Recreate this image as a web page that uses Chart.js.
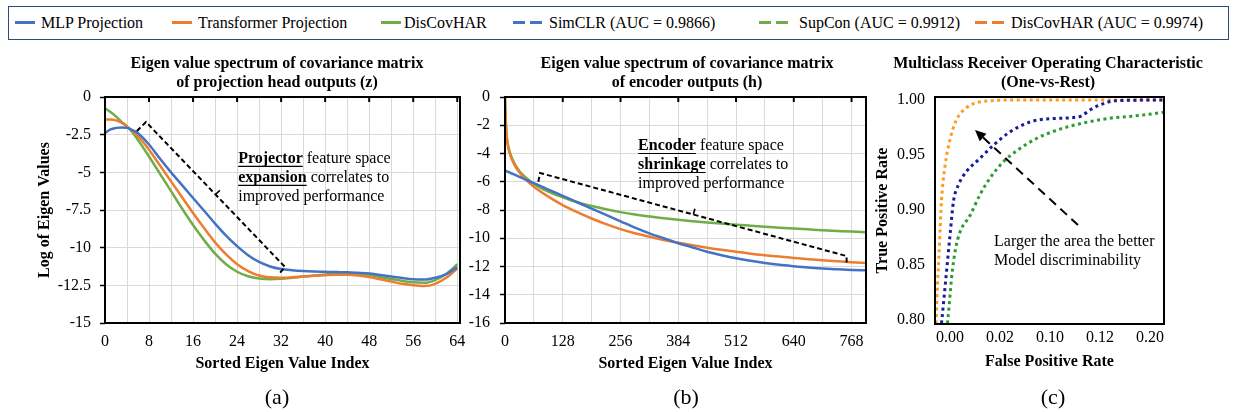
<!DOCTYPE html>
<html><head><meta charset="utf-8">
<script src="https://cdn.jsdelivr.net/npm/chart.js@4.4.1/dist/chart.umd.min.js"></script>
<style>
body{margin:0;width:1235px;height:412px;background:#fff;position:relative;overflow:hidden;font-family:"Liberation Serif","Times New Roman",serif;color:#000;}
canvas.c{position:absolute;left:0;top:0;}
#legend{position:absolute;left:8px;top:6px;width:1221px;height:34px;border:1.5px solid #2E4A7D;box-sizing:border-box;}
.lt{position:absolute;top:0;height:31px;line-height:31px;font-size:16px;white-space:nowrap;}
.sw{position:absolute;top:14px;height:3px;}
.cap{position:absolute;top:385px;font-size:22px;line-height:24px;transform:translateX(-50%);white-space:nowrap;}
</style></head>
<body>
<div id="legend"></div>
<canvas class="c" id="ca" width="1235" height="412"></canvas>
<canvas class="c" id="cb" width="1235" height="412"></canvas>
<canvas class="c" id="cc" width="1235" height="412"></canvas>
<div class="cap" style="left:277px">(a)</div>
<div class="cap" style="left:686px">(b)</div>
<div class="cap" style="left:1053px">(c)</div>
<script>
// ---------------- DATA ----------------
// Legend
const legendLabels = ['MLP Projection','Transformer Projection','DisCovHAR','SimCLR (AUC = 0.9866)','SupCon (AUC = 0.9912)','DisCovHAR (AUC = 0.9974)'];
const legendColors = ['#4472C4','#ED7D31','#70AD47','#4472C4','#70AD47','#ED7D31'];
const legendDashed = [false,false,false,true,true,true];

// (a) projection head eigen spectrum
const aIdx  = [0,1,2,3,4,5,6,8,10,12,14,16,18,20,22,24,26,28,30,32,34,36,38,40,42,44,46,48,50,52,54,56,58,60,62,64];
const aMLP  = [-2.4,-2.15,-2.05,-2.02,-2.05,-2.2,-2.4,-3.15,-4.1,-5.0,-5.85,-6.7,-7.55,-8.4,-9.2,-9.9,-10.5,-10.95,-11.25,-11.42,-11.5,-11.55,-11.58,-11.6,-11.62,-11.63,-11.67,-11.72,-11.82,-11.92,-12.02,-12.1,-12.12,-12.0,-11.75,-11.3];
const aTrans= [-1.5,-1.5,-1.55,-1.7,-1.95,-2.25,-2.6,-3.5,-4.55,-5.6,-6.65,-7.7,-8.7,-9.65,-10.45,-11.1,-11.55,-11.85,-11.97,-12.0,-11.97,-11.92,-11.87,-11.83,-11.8,-11.8,-11.85,-11.95,-12.1,-12.25,-12.4,-12.5,-12.55,-12.4,-12.0,-11.4];
const aDisc = [-0.75,-1.0,-1.3,-1.65,-1.95,-2.35,-2.85,-3.95,-5.1,-6.25,-7.4,-8.5,-9.5,-10.4,-11.1,-11.6,-11.9,-12.05,-12.1,-12.07,-12.0,-11.92,-11.85,-11.78,-11.72,-11.7,-11.73,-11.82,-11.95,-12.08,-12.2,-12.3,-12.33,-12.15,-11.75,-11.1];
const aXTicks = [0,8,16,24,32,40,48,56,64];
const aXTickLabels = ['0','8','16','24','32','40','48','56','64'];
const aYTicks = [0,-2.5,-5,-7.5,-10,-12.5,-15];
const aYTickLabels = ['0','-2.5','-5','-7.5','-10','-12.5','-15'];

// (b) encoder eigen spectrum
const bIdx  = [0,2,4,8,12,20,32,48,64,96,128,160,192,224,256,288,320,352,384,416,448,480,512,544,576,608,640,672,704,736,768,800];
const bMLP  = [-5.2,-5.23,-5.26,-5.31,-5.37,-5.48,-5.65,-5.88,-6.1,-6.55,-7.0,-7.45,-7.9,-8.35,-8.8,-9.25,-9.65,-10.0,-10.35,-10.65,-10.95,-11.2,-11.42,-11.6,-11.75,-11.88,-11.98,-12.07,-12.14,-12.2,-12.24,-12.27];
const bTrans= [0,-1.9,-2.9,-3.7,-4.15,-4.75,-5.35,-5.9,-6.35,-7.05,-7.65,-8.15,-8.6,-9.0,-9.35,-9.65,-9.9,-10.12,-10.32,-10.5,-10.67,-10.82,-10.96,-11.09,-11.2,-11.3,-11.4,-11.48,-11.56,-11.63,-11.7,-11.76];
const bDisc = [0,-1.8,-2.8,-3.6,-4.05,-4.65,-5.25,-5.75,-6.15,-6.7,-7.1,-7.45,-7.72,-7.95,-8.15,-8.32,-8.46,-8.58,-8.69,-8.79,-8.88,-8.96,-9.04,-9.11,-9.18,-9.25,-9.31,-9.37,-9.43,-9.48,-9.53,-9.57];
const bXTicks = [0,128,256,384,512,640,768];
const bXTickLabels = ['0','128','256','384','512','640','768'];
const bYTicks = [0,-2,-4,-6,-8,-10,-12,-14,-16];
const bYTickLabels = ['0','-2','-4','-6','-8','-10','-12','-14','-16'];

// (c) ROC (x in axis tick units; tick k carries label cXTickLabels[k])
const cSimX = [-0.17,-0.12,-0.07,0.0,0.07,0.17,0.33,0.6,0.87,1.2,1.6,2.0,2.6,2.8,3.0,3.33,4.3];
const cSimY = [0.797,0.82,0.844,0.877,0.908,0.923,0.935,0.947,0.959,0.971,0.98,0.983,0.985,0.991,0.9955,0.9994,1.0];
const cSupX = [-0.05,-0.01,0.03,0.1,0.2,0.4,0.6,0.8,1.07,1.4,1.73,2.1,2.47,3.13,3.8,4.3];
const cSupY = [0.797,0.817,0.838,0.862,0.880,0.895,0.914,0.929,0.944,0.956,0.965,0.972,0.977,0.983,0.986,0.989];
const cDisX = [-0.28,-0.25,-0.21,-0.17,-0.1,0.0,0.13,0.33,0.73,1.4,2.5,4.3];
const cDisY = [0.797,0.832,0.869,0.909,0.940,0.964,0.982,0.993,0.999,1.0,1.0,1.0];
const cXTicks = [0,1,2,3,4];
const cXTickLabels = ['0.00','0.02','0.10','0.12','0.20'];
const cYTicks = [0.80,0.85,0.90,0.95,1.00];
const cYTickLabels = ['0.80','0.85','0.90','0.95','1.00'];

// ---------------- LEGEND (html) ----------------
const legSwX = [14,171,380,512,758,974];
const legTxX = [40,197,403,548,798,1010];
const lg = document.getElementById('legend');
legendLabels.forEach((t,i)=>{
  if (legendDashed[i]) {
    [0,17].forEach(o=>{const d=document.createElement('div');d.className='sw';d.style.left=(legSwX[i]-8+o)+'px';d.style.width='12px';d.style.background=legendColors[i];lg.appendChild(d);});
  } else {
    const d=document.createElement('div');d.className='sw';d.style.left=(legSwX[i]-8)+'px';d.style.width='20px';d.style.background=legendColors[i];lg.appendChild(d);
  }
  const s=document.createElement('div');s.className='lt';s.style.left=(legTxX[i]-8)+'px';s.textContent=t;lg.appendChild(s);
});

// ---------------- CHART SETUP ----------------
const FONT='"Liberation Serif","Times New Roman",serif';
Chart.defaults.font.family=FONT;
Chart.defaults.font.size=16;
Chart.defaults.color='#000';

const titlePos={id:'titlePos',afterLayout(chart,args,o){
  const tb=chart.titleBlock; if(!tb||!o||o.center==null)return;
  tb.left=o.center-200; tb.right=o.center+200; tb.width=400;
}};
const frame={id:'frame',afterDatasetsDraw(chart,args,o){
  const {ctx,chartArea:a}=chart;ctx.save();ctx.strokeStyle='#000';ctx.lineWidth=2;
  ctx.strokeRect(a.left,a.top,a.right-a.left,a.bottom-a.top);
  if(o&&o.topTicks){const xs=chart.scales.x;o.topTicks.forEach(v=>{const p=xs.getPixelForValue(v);ctx.beginPath();ctx.moveTo(p,a.top);ctx.lineTo(p,a.top+5);ctx.stroke();});}
  ctx.restore();
}};
const notes={id:'notes',afterDatasetsDraw(chart,args,o){
  if(!o||!o.items)return;const ctx=chart.ctx,xs=chart.scales.x,ys=chart.scales.y;
  const P=p=>[xs.getPixelForValue(p[0]),ys.getPixelForValue(p[1])];
  o.items.forEach(it=>{ctx.save();ctx.strokeStyle='#000';ctx.fillStyle='#000';
    if(it.type==='brace'){
      const pts=it.points.map(P);ctx.lineWidth=2;ctx.setLineDash([5,3]);ctx.beginPath();
      pts.forEach((p,i)=>i?ctx.lineTo(p[0],p[1]):ctx.moveTo(p[0],p[1]));ctx.stroke();
      const a=pts[1],b=pts[2],mx=(a[0]+b[0])/2,my=(a[1]+b[1])/2;const dx=b[0]-a[0],dy=b[1]-a[1],L=Math.hypot(dx,dy);
      const nx=-dy/L*it.spike,ny=dx/L*it.spike;ctx.setLineDash([]);ctx.lineWidth=1.6;ctx.beginPath();ctx.moveTo(mx,my);ctx.lineTo(mx+nx,my+ny);ctx.stroke();
    } else if(it.type==='arrow'){
      const f=P(it.from),t=P(it.to);ctx.lineWidth=2;ctx.setLineDash([9,6]);const ang=Math.atan2(t[1]-f[1],t[0]-f[0]);
      ctx.beginPath();ctx.moveTo(f[0],f[1]);ctx.lineTo(t[0]-8*Math.cos(ang),t[1]-8*Math.sin(ang));ctx.stroke();
      ctx.setLineDash([]);ctx.beginPath();ctx.moveTo(t[0],t[1]);
      ctx.lineTo(t[0]-11*Math.cos(ang)+5*Math.sin(ang),t[1]-11*Math.sin(ang)-5*Math.cos(ang));
      ctx.lineTo(t[0]-11*Math.cos(ang)-5*Math.sin(ang),t[1]-11*Math.sin(ang)+5*Math.cos(ang));ctx.closePath();ctx.fill();
    } else if(it.type==='text'){
      const [x0,y0]=P(it.at);ctx.textBaseline='middle';
      it.lines.forEach((segs,li)=>{let x=x0;const y=y0+li*it.step;
        segs.forEach(s=>{ctx.font=(s.b?'bold ':'')+'16px '+FONT;ctx.fillText(s.t,x,y);const w=ctx.measureText(s.t).width;
          if(s.u){ctx.lineWidth=1.2;ctx.beginPath();ctx.moveTo(x,y+7.5);ctx.lineTo(x+w,y+7.5);ctx.stroke();}x+=w;});});
    }
    ctx.restore();});
}};
Chart.register(titlePos,frame,notes);

function pts(xs,ys){return xs.map((x,i)=>({x:x,y:ys[i]}));}
function lineDs(label,xs,ys,color){return {label,data:pts(xs,ys),borderColor:color,backgroundColor:color,borderWidth:2.5,pointRadius:0,cubicInterpolationMode:'monotone',fill:false};}
function rocDs(label,xs,ys,color){return {label,data:pts(xs,ys),borderColor:color,backgroundColor:color,borderWidth:3,borderDash:[3,3.5],pointRadius:0,cubicInterpolationMode:'monotone',fill:false,borderCapStyle:'butt'};}
function setTicks(vals){return s=>{s.ticks=vals.map(v=>({value:v}));};}
function gridTicks(lo,hi,step){return s=>{const t=[];for(let v=lo;v<=hi+1e-9;v+=step)t.push({value:v});s.ticks=t;};}
function lab(vals,labels){return v=>{const i=vals.findIndex(u=>Math.abs(u-v)<1e-9);return i<0?'':labels[i];};}
const titleFont={size:16,weight:'bold'};

function baseOpts(pad,title,titleCenter,noteItems,topTicks){
  return {responsive:false,animation:false,devicePixelRatio:1,
    layout:{padding:pad},
    plugins:{legend:{display:false},tooltip:{enabled:false},
      title:{display:true,fullSize:false,text:title,font:titleFont,color:'#000',padding:{top:0,bottom:4.2}},
      titlePos:{center:titleCenter},
      frame:{topTicks:topTicks},notes:{items:noteItems}}};
}

// (a)
const optA=baseOpts({left:35.4,right:775,top:54.4,bottom:38.4},['Eigen value spectrum of covariance matrix','of projection head outputs (z)'],277,[
  {type:'brace',points:[[5.8,-2.26],[7.45,-1.66],[32.7,-11.28],[31.45,-11.81]],spike:-6},
  {type:'text',at:[24.2,-4.11],step:19,lines:[[{t:'Projector',b:true,u:true},{t:' feature space'}],[{t:'expansion',b:true,u:true},{t:' correlates to'}],[{t:'improved performance'}]]}
],aXTicks.slice(1));
optA.scales={
  x:{type:'linear',min:0,max:64.5,afterBuildTicks:gridTicks(0,64,4),
    ticks:{callback:lab(aXTicks,aXTickLabels),padding:9.4,maxRotation:0,autoSkip:false,color:'#000'},
    grid:{color:'#d9d9d9',drawTicks:false},border:{display:false},
    title:{display:true,text:'Sorted Eigen Value Index',font:titleFont,color:'#000',padding:{top:0,bottom:0}},
    afterFit:s=>{s.height=50.6;}},
  y:{type:'linear',min:-15,max:0,afterBuildTicks:setTicks(aYTicks),
    ticks:{callback:lab(aYTicks,aYTickLabels),padding:9,color:'#000'},
    grid:{color:'#d9d9d9',drawTicks:true,tickLength:5,tickColor:'#000',tickWidth:1.5},border:{display:false},
    title:{display:true,text:'Log of Eigen Values',font:titleFont,color:'#000',padding:{top:0,bottom:0}},
    afterFit:s=>{s.width=69.6;}}
};
new Chart(document.getElementById('ca'),{type:'line',data:{datasets:[
  lineDs('MLP Projection',aIdx,aMLP,'#4472C4'),
  lineDs('Transformer Projection',aIdx,aTrans,'#ED7D31'),
  lineDs('DisCovHAR',aIdx,aDisc,'#70AD47')]},options:optA});

// (b)
const optB=baseOpts({left:455,right:369,top:54.4,bottom:38.4},['Eigen value spectrum of covariance matrix','of encoder outputs (h)'],687,[
  {type:'brace',points:[[73.9,-6.0],[77.7,-5.38],[757,-11.26],[757,-11.82]],spike:-6},
  {type:'text',at:[295,-3.47],step:19,lines:[[{t:'Encoder',b:true,u:true},{t:' feature space'}],[{t:'shrinkage',b:true,u:true},{t:' correlates to'}],[{t:'improved performance'}]]}
],bXTicks.slice(1));
optB.scales={
  x:{type:'linear',min:0,max:800,afterBuildTicks:gridTicks(0,800,64),
    ticks:{callback:lab(bXTicks,bXTickLabels),padding:9.4,maxRotation:0,autoSkip:false,color:'#000'},
    grid:{color:'#d9d9d9',drawTicks:false},border:{display:false},
    title:{display:true,text:'Sorted Eigen Value Index',font:titleFont,color:'#000',padding:{top:0,bottom:0}},
    afterFit:s=>{s.height=50.6;}},
  y:{type:'linear',min:-16,max:0,afterBuildTicks:setTicks(bYTicks),
    ticks:{callback:lab(bYTicks,bYTickLabels),padding:10,color:'#000'},
    grid:{color:'#d9d9d9',drawTicks:true,tickLength:5,tickColor:'#000',tickWidth:1.5},border:{display:false},
    afterFit:s=>{s.width=50;}}
};
new Chart(document.getElementById('cb'),{type:'line',data:{datasets:[
  lineDs('MLP Projection',bIdx,bMLP,'#4472C4'),
  lineDs('Transformer Projection',bIdx,bTrans,'#ED7D31'),
  lineDs('DisCovHAR',bIdx,bDisc,'#70AD47')]},options:optB});

// (c)
const optC=baseOpts({left:873.4,right:71,top:54.4,bottom:40.7},['Multiclass Receiver Operating Characteristic','(One-vs-Rest)'],1048,[
  {type:'arrow',from:[2.56,0.8864],to:[0.5,0.9727]},
  {type:'text',at:[0.88,0.8712],step:19,lines:[[{t:'Larger the area the better'}],[{t:'Model discriminability'}]]}
],null);
optC.scales={
  x:{type:'linear',min:-0.3,max:4.28,afterBuildTicks:setTicks(cXTicks),
    ticks:{callback:lab(cXTicks,cXTickLabels),padding:4.4,maxRotation:0,autoSkip:false,color:'#000'},
    grid:{display:false,drawTicks:false},border:{display:false},
    title:{display:true,text:'False Positive Rate',font:titleFont,color:'#000',padding:{top:0,bottom:0}},
    afterFit:s=>{s.height=47.3;}},
  y:{type:'linear',min:0.7965,max:1.0027,afterBuildTicks:setTicks(cYTicks),
    ticks:{callback:lab(cYTicks,cYTickLabels),padding:10,color:'#000'},
    grid:{display:false,drawTicks:false},border:{display:false},
    title:{display:true,text:'True Positive Rate',font:titleFont,color:'#000',padding:{top:0,bottom:0}},
    afterFit:s=>{s.width=61.6;}}
};
new Chart(document.getElementById('cc'),{type:'line',data:{datasets:[
  rocDs('SimCLR (AUC = 0.9866)',cSimX,cSimY,'#1A1A9C'),
  rocDs('SupCon (AUC = 0.9912)',cSupX,cSupY,'#2E9B2E'),
  rocDs('DisCovHAR (AUC = 0.9974)',cDisX,cDisY,'#FF9A1F')]},options:optC});
</script>
</body></html>
